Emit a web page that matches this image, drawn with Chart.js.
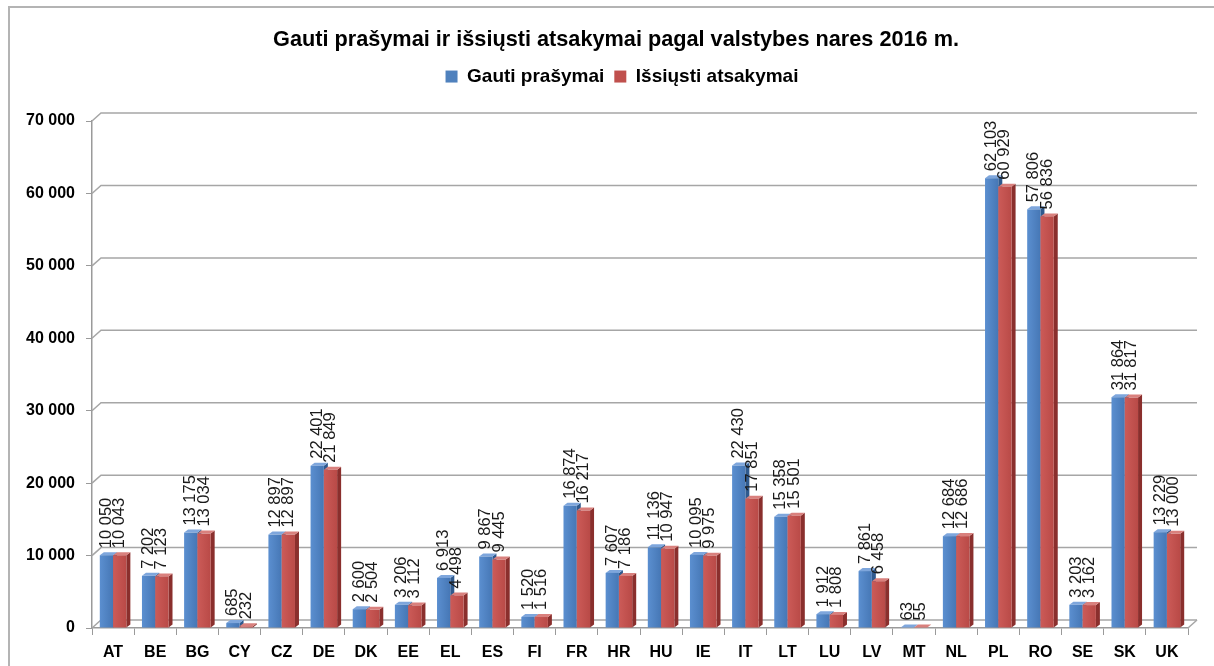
<!DOCTYPE html>
<html>
<head>
<meta charset="utf-8">
<script src="https://cdn.jsdelivr.net/npm/chart.js@4/dist/chart.umd.min.js"></script>
<style>
  body { margin: 0; background: #fff; }
  #wrap { width: 1214px; height: 666px; }
</style>
</head>
<body>
<div id="wrap"><canvas id="Charts" width="1214" height="666"></canvas></div>
<script>
// values
var countries = ['AT','BE','BG','CY','CZ','DE','DK','EE','EL','ES','FI','FR','HR','HU','IE','IT','LT','LU','LV','MT','NL','PL','RO','SE','SK','UK'];
var received = [10050,7202,13175,685,12897,22401,2600,3206,6913,9867,1520,16874,7607,11136,10095,22430,15358,1912,7861,63,12684,62103,57806,3203,31864,13229];
var answered = [10043,7123,13034,232,12897,21849,2504,3112,4498,9445,1516,16217,7186,10947,9975,17851,15501,1808,6458,55,12686,60929,56836,3162,31817,13000];
var yTicks = [0,10000,20000,30000,40000,50000,60000,70000];

var fontName = "'Liberation Sans', Arial, sans-serif";
var gx = 9, gy = 8;   // depth of back wall
var bx = 4, by = 3;   // depth of a bar

function fmt(v){
    return String(v).replace(/\B(?=(\d{3})+(?!\d))/g, ' ');
}

// colours for front / side / top
var looks = [
    {front1:'#5b8fd0', front2:'#4677b5', side:'#2f5a8e', top:'#7ea6dc'},
    {front1:'#cc5b58', front2:'#b94a47', side:'#8a2f2d', top:'#d9807d'}
];

var frame = {
    id: 'frame',
    beforeDraw(chart){
        var c = chart.ctx;
        c.save();
        c.fillStyle = '#fff';
        c.fillRect(0, 0, chart.width, chart.height);
        c.strokeStyle = '#b4b4b4';
        c.lineWidth = 2;
        c.strokeRect(9, 7, 1400, 900);
        c.restore();
    }
};

// extra room under the legend, and title/legend moved a bit right
var legendGap = {
    id: 'legendGap',
    beforeInit(chart){
        var fit = chart.legend.fit;
        chart.legend.fit = function(){
            fit.bind(chart.legend)();
            this.height += 25;
        };
    },
    afterLayout(chart){
        if (chart.titleBlock) { chart.titleBlock.left += 22; chart.titleBlock.right += 22; }
        chart.legend.left += 28;
        chart.legend.right += 28;
    }
};

var bars3d = {
    id: 'bars3d',
    beforeDatasetsDraw(chart){
        var c = chart.ctx;
        var a = chart.chartArea;
        var ys = chart.scales.y;
        c.save();
        // back wall grid lines and floor
        c.strokeStyle = '#a6a6a6';
        c.lineWidth = 1.5;
        yTicks.forEach(function(t){
            var py = ys.getPixelForValue(t);
            c.beginPath();
            c.moveTo(a.left, py);
            c.lineTo(a.left + gx, py - gy);
            c.lineTo(a.right + gx, py - gy);
            c.stroke();
        });
        c.beginPath();
        c.moveTo(a.right, a.bottom);
        c.lineTo(a.right + gx, a.bottom - gy);
        c.stroke();

        var m0 = chart.getDatasetMeta(0).data;
        var m1 = chart.getDatasetMeta(1).data;
        for (var i = 0; i < countries.length; i++) {
            [m0[i], m1[i]].forEach(function(el, k){
                var p = el.getProps(['x','y','base','width'], true);
                var l = p.x - p.width/2, r = p.x + p.width/2;
                var lk = looks[k];
                // side
                c.fillStyle = lk.side;
                c.beginPath();
                c.moveTo(r, p.y);
                c.lineTo(r + bx, p.y - by);
                c.lineTo(r + bx, p.base - by);
                c.lineTo(r, p.base);
                c.closePath();
                c.fill();
                // top
                c.fillStyle = lk.top;
                c.beginPath();
                c.moveTo(l, p.y);
                c.lineTo(l + bx, p.y - by);
                c.lineTo(r + bx, p.y - by);
                c.lineTo(r, p.y);
                c.closePath();
                c.fill();
                // front
                var g = c.createLinearGradient(l, 0, r, 0);
                g.addColorStop(0, lk.front1);
                g.addColorStop(1, lk.front2);
                c.fillStyle = g;
                c.fillRect(l, p.y, r - l, p.base - p.y);
            });
        }

        // value labels, turned upright
        c.fillStyle = '#1a1a1a';
        c.font = '16.5px ' + fontName;
        c.textAlign = 'left';
        c.textBaseline = 'middle';
        [m0, m1].forEach(function(meta, k){
            var vals = k == 0 ? received : answered;
            meta.forEach(function(el, i){
                var p = el.getProps(['x','y'], true);
                c.save();
                c.translate(p.x, p.y - by - 4);
                c.rotate(-Math.PI/2);
                c.fillText(fmt(vals[i]), 0, 0);
                c.restore();
            });
        });
        c.restore();
        return false;
    }
};

var ctx = document.getElementById('Charts').getContext('2d');
var myChart = new Chart(ctx, {
    type: 'bar',
    data: {
        labels: countries,
        datasets: [
            {label: 'Gauti prašymai', data: received, backgroundColor: '#4f81bd'},
            {label: 'Išsiųsti atsakymai', data: answered, backgroundColor: '#c0504d'}
        ]
    },
    options: {
        responsive: false,
        animation: false,
        events: [],
        layout: {padding: {left: 0, right: 26, top: 0, bottom: 0}},
        categoryPercentage: 0.63,
        barPercentage: 1,
        plugins: {
            tooltip: {enabled: false},
            title: {
                display: true,
                text: 'Gauti prašymai ir išsiųsti atsakymai pagal valstybes nares 2016 m.',
                color: '#000',
                font: {family: fontName, size: 21.7, weight: 'bold'},
                padding: {top: 27, bottom: 4}
            },
            legend: {
                display: true,
                labels: {
                    color: '#000',
                    font: {family: fontName, size: 19, weight: 'bold'},
                    boxWidth: 12,
                    boxHeight: 12,
                    padding: 10
                }
            }
        },
        scales: {
            x: {
                grid: {drawOnChartArea: false, tickLength: 7, color: '#9a9a9a', offset: true},
                border: {display: true, color: '#9a9a9a', width: 1.5},
                ticks: {color: '#000', font: {family: fontName, size: 16, weight: 'bold'}, padding: 8, maxRotation: 0},
                afterFit(scale){ scale.height = 38; }
            },
            y: {
                min: 0,
                max: 70000,
                grid: {drawOnChartArea: false, tickLength: 6, color: '#9a9a9a'},
                border: {display: true, color: '#9a9a9a', width: 1.5},
                ticks: {
                    stepSize: 10000,
                    color: '#000',
                    font: {family: fontName, size: 16, weight: 'bold'},
                    padding: 11,
                    callback: function(v){ return fmt(v); }
                },
                afterFit(scale){ scale.width = 92; }
            }
        }
    },
    plugins: [frame, legendGap, bars3d]
});
</script>
</body>
</html>
